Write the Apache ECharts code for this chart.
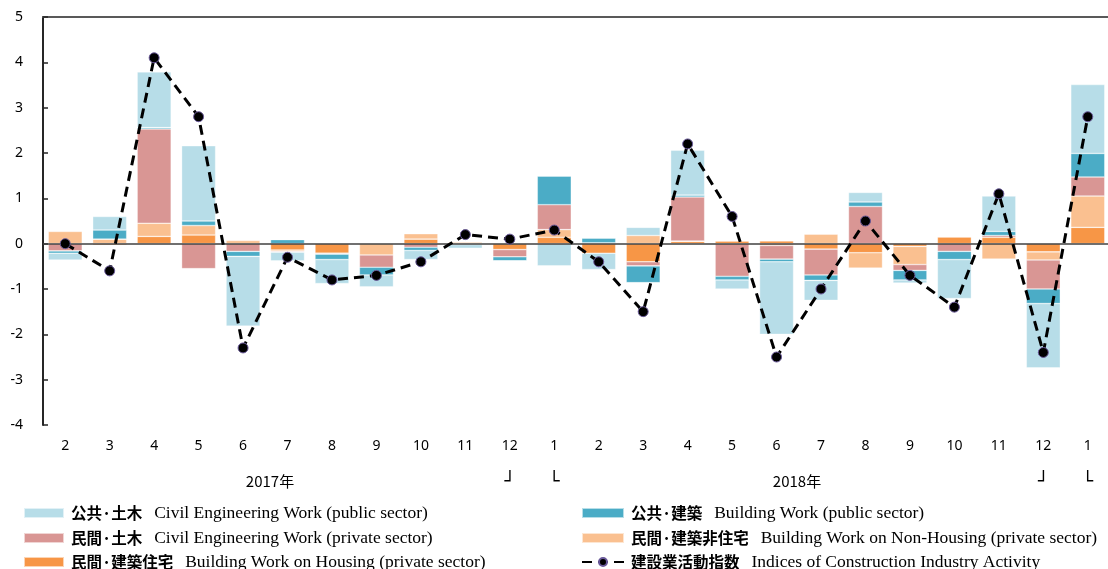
<!DOCTYPE html>
<html><head><meta charset="utf-8">
<script src="https://cdn.jsdelivr.net/npm/echarts@6/dist/echarts.min.js"></script>
<style>html,body{margin:0;padding:0;background:#fff}#c{width:1108px;height:569px}</style>
</head><body><div id="c"></div>
<script>
// Category (month) labels
const months = ['2','3','4','5','6','7','8','9','10','11','12','1','2','3','4','5','6','7','8','9','10','11','12','1'];
const brackets = ['','','','','','','','','','','┘','└','','','','','','','','','','','┘','└'];
const years = ['2017年','2018年'];

// Series values (contributions, percentage points)
const housingPriv = [0,-0.03,0.16,0.19,0,-0.14,-0.21,0,0.10,0,-0.13,0.14,-0.21,-0.40,0.05,0.06,0.06,-0.12,-0.20,-0.06,0.15,0.14,-0.18,0.36];
const nonHousingPriv = [0.27,0.10,0.29,0.21,0.07,-0.03,0,-0.25,0.12,0.03,0,0.17,0.02,0.18,0.01,0,-0.04,0.21,-0.34,-0.40,0,-0.34,-0.18,0.69];
const civilPriv = [-0.16,0,2.08,-0.55,-0.17,-0.02,-0.02,-0.27,-0.08,-0.02,-0.16,0.55,0,-0.09,0.97,-0.72,-0.30,-0.57,0.82,-0.13,-0.17,0.04,-0.64,0.42];
const buildingPub = [-0.05,0.20,0.03,0.10,-0.11,0.09,-0.12,-0.17,-0.07,0,-0.09,0.63,0.10,-0.37,0.04,-0.08,-0.06,-0.12,0.10,-0.21,-0.18,0.09,-0.32,0.52];
const civilPub = [-0.15,0.30,1.23,1.66,-1.54,-0.19,-0.53,-0.26,-0.20,-0.08,0,-0.49,-0.36,0.18,0.99,-0.20,-1.60,-0.44,0.21,-0.07,-0.86,0.78,-1.42,1.52];
const indexLine = [0,-0.6,4.1,2.8,-2.3,-0.3,-0.8,-0.7,-0.4,0.2,0.1,0.3,-0.4,-1.5,2.2,0.6,-2.5,-1.0,0.5,-0.7,-1.4,1.1,-2.4,2.8];

const names = {
  civilPub: '公共·土木', buildingPub: '公共·建築', civilPriv: '民間·土木',
  nonHousing: '民間·建築非住宅', housing: '民間·建築住宅', index: '建設業活動指数'
};
const english = {
  '公共·土木': 'Civil Engineering Work (public sector)',
  '公共·建築': 'Building Work (public sector)',
  '民間·土木': 'Civil Engineering Work (private sector)',
  '民間·建築非住宅': 'Building Work on Non-Housing (private sector)',
  '民間·建築住宅': 'Building Work on Housing (private sector)',
  '建設業活動指数': 'Indices of Construction Industry Activity'
};

const chart = echarts.init(document.getElementById('c'), null, {renderer: 'canvas'});
const legendRich = {
  c: {fontFamily: '"Noto Sans CJK JP"', fontSize: 15.5, fontWeight: 'bold', color: '#000', lineHeight: 18, padding: [0,0,0,2]},
  e: {fontFamily: '"Liberation Serif"', fontSize: 17.5, color: '#000', lineHeight: 18, padding: [0,0,0,12]}
};
const legendFmt = n => '{c|' + n + '}{e|' + english[n] + '}';
function leg(name, left, top, width, icon) {
  const d = icon ? {name, icon} : {name};
  return {orient: 'horizontal', left, top, padding: 0, itemWidth: width, itemHeight: 10,
    data: [d], formatter: legendFmt, textStyle: {rich: legendRich}, selectedMode: false};
}
function bar(name, data, color, extra) {
  return Object.assign({
    name, type: 'bar', stack: 'total', data, barWidth: 34,
    itemStyle: {color, borderColor: 'rgba(255,255,255,0.6)', borderWidth: 0.6},
    emphasis: {disabled: true}
  }, extra || {});
}
const option = {
  animation: false,
  grid: {left: 43, top: 17, width: 1067, height: 408, outerBoundsMode: 'none', containLabel: false},
  xAxis: [
    {type: 'category', data: months, position: 'bottom',
     axisLine: {show: false}, axisTick: {show: false},
     axisLabel: {margin: 14, color: '#000', fontSize: 14, fontFamily: '"Noto Sans"'}},
    {type: 'category', data: months, position: 'top',
     axisLine: {show: true, onZero: false, lineStyle: {color: '#595959', width: 2}},
     axisTick: {show: false}, axisLabel: {show: false}},
    {type: 'category', data: months, position: 'bottom', offset: 36,
     axisLine: {show: false}, axisTick: {show: false},
     axisLabel: {margin: 12, color: '#000', fontSize: 18, fontWeight: 'bold', fontFamily: '"DejaVu Sans"',
       formatter: (v, i) => brackets[i]}}
  ],
  yAxis: {
    type: 'value', min: -4, max: 5, interval: 1,
    axisLine: {show: true, lineStyle: {color: '#262626', width: 2}},
    axisTick: {show: true, inside: true, length: 5, lineStyle: {color: '#262626', width: 1.5}},
    splitLine: {show: false},
    axisLabel: {margin: 20, color: '#000', fontSize: 14, fontFamily: '"Noto Sans"'}
  },
  legend: [
    leg(names.civilPub, 23, 504, 40, 'rect'),
    leg(names.civilPriv, 23, 529, 40, 'rect'),
    leg(names.housing, 23, 553, 40, 'rect'),
    leg(names.buildingPub, 581, 504, 42, 'rect'),
    leg(names.nonHousing, 581, 529, 42, 'rect'),
    leg(names.index, 581, 553, 42)
  ],
  graphic: [
    {type: 'text', x: 270, y: 481, style: {text: years[0], textAlign: 'center', textVerticalAlign: 'middle', font: '15px "Noto Sans CJK JP"', fill: '#000'}},
    {type: 'text', x: 797, y: 481, style: {text: years[1], textAlign: 'center', textVerticalAlign: 'middle', font: '15px "Noto Sans CJK JP"', fill: '#000'}}
  ],
  series: [
    bar(names.housing, housingPriv, '#f79646', {
      markLine: {symbol: 'none', silent: true, label: {show: false},
        lineStyle: {color: '#404040', width: 1.5, type: 'solid'}, data: [{yAxis: 0}]}
    }),
    bar(names.nonHousing, nonHousingPriv, '#fac090'),
    bar(names.civilPriv, civilPriv, '#d99694'),
    bar(names.buildingPub, buildingPub, '#4bacc6'),
    bar(names.civilPub, civilPub, '#b7dde8'),
    {name: names.index, type: 'line', data: indexLine, z: 5,
     symbol: 'circle', symbolSize: 10,
     lineStyle: {color: '#000', width: 3, type: [10, 6]},
     itemStyle: {color: '#000', borderColor: '#6a5a9a', borderWidth: 1},
     emphasis: {disabled: true}}
  ]
};
chart.setOption(option);
</script>
</body></html>
